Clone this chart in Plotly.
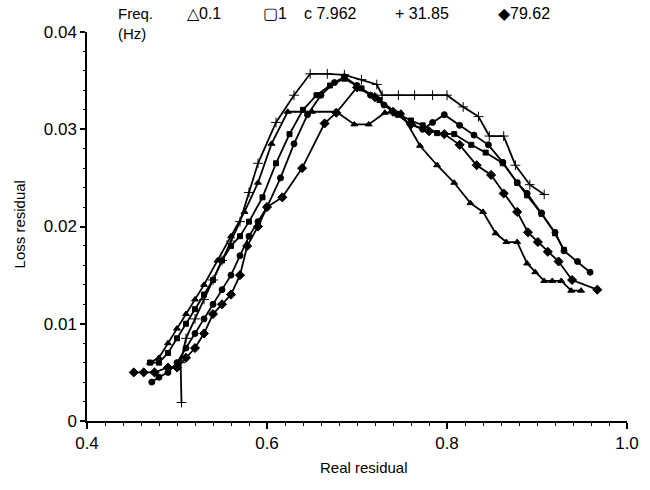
import plotly.graph_objects as go

# Frequency labels (Hz) and marker symbols per series
freq_labels = ["0.1", "1", "7.962", "31.85", "79.62"]
legend_text = ["\u25b30.1", "\u25a21", "c 7.962", "+ 31.85", "\u25c679.62"]
symbols = ["triangle-up", "square", "circle", "cross-thin", "diamond"]

# 0.1 Hz
real_01 = [0.470, 0.480, 0.490, 0.500, 0.510, 0.520, 0.530, 0.545, 0.560, 0.575, 0.590, 0.605,
           0.623, 0.650, 0.677, 0.697, 0.713, 0.731, 0.749, 0.770, 0.789, 0.808, 0.826, 0.840,
           0.854, 0.866, 0.878, 0.889, 0.898, 0.908, 0.917, 0.927, 0.938, 0.949]
loss_01 = [0.0060, 0.0065, 0.0080, 0.0095, 0.0110, 0.0125, 0.0140, 0.0165, 0.0190, 0.0215, 0.0245, 0.0285,
           0.0318, 0.0318, 0.0318, 0.0305, 0.0305, 0.0317, 0.0317, 0.0283, 0.0263, 0.0245, 0.0224, 0.0215,
           0.0193, 0.0184, 0.0184, 0.0162, 0.0153, 0.0144, 0.0144, 0.0144, 0.0134, 0.0134]

# 1 Hz
real_1 = [0.470, 0.480, 0.490, 0.500, 0.510, 0.520, 0.530, 0.540, 0.550, 0.560, 0.570, 0.580, 0.595,
          0.610, 0.625, 0.640, 0.655, 0.670, 0.686, 0.705, 0.725, 0.745, 0.760, 0.773, 0.789, 0.808,
          0.827, 0.843, 0.862, 0.878, 0.889, 0.905, 0.920, 0.930]
loss_1 = [0.0060, 0.0060, 0.0070, 0.0085, 0.0100, 0.0115, 0.0130, 0.0145, 0.0165, 0.0180, 0.0190, 0.0205, 0.0230,
          0.0265, 0.0295, 0.0320, 0.0335, 0.0345, 0.0352, 0.0342, 0.0330, 0.0316, 0.0309, 0.0304, 0.0296, 0.0295,
          0.0284, 0.0276, 0.0265, 0.0245, 0.0232, 0.0213, 0.0193, 0.0176]

# 7.962 Hz
real_7 = [0.472, 0.480, 0.490, 0.500, 0.510, 0.520, 0.530, 0.540, 0.550, 0.560, 0.570, 0.580, 0.590,
          0.600, 0.615, 0.630, 0.645, 0.660, 0.675, 0.686, 0.700, 0.715, 0.730, 0.745, 0.760, 0.773,
          0.784, 0.797, 0.814, 0.830, 0.846, 0.862, 0.878, 0.889, 0.905, 0.920, 0.930, 0.945, 0.959]
loss_7 = [0.0040, 0.0045, 0.0050, 0.0060, 0.0075, 0.0090, 0.0105, 0.0120, 0.0135, 0.0150, 0.0170, 0.0190, 0.0205,
          0.0220, 0.0250, 0.0285, 0.0315, 0.0335, 0.0348, 0.0354, 0.0345, 0.0335, 0.0325, 0.0315, 0.0305, 0.0300,
          0.0307, 0.0315, 0.0304, 0.0294, 0.0284, 0.0266, 0.0245, 0.0234, 0.0214, 0.0194, 0.0175, 0.0164, 0.0153]

# 31.85 Hz
real_31 = [0.505, 0.504, 0.510, 0.520, 0.530, 0.540, 0.550, 0.560, 0.570, 0.580, 0.590, 0.610, 0.630,
           0.648, 0.667, 0.686, 0.705, 0.722, 0.728, 0.746, 0.764, 0.784, 0.800, 0.818, 0.835, 0.847,
           0.863, 0.876, 0.892, 0.908]
loss_31 = [0.0019, 0.0060, 0.0085, 0.0105, 0.0125, 0.0145, 0.0165, 0.0185, 0.0205, 0.0235, 0.0265, 0.0307, 0.0335,
           0.0357, 0.0357, 0.0356, 0.0351, 0.0346, 0.0335, 0.0335, 0.0335, 0.0335, 0.0335, 0.0323, 0.0313, 0.0293,
           0.0293, 0.0263, 0.0243, 0.0233]

# 79.62 Hz
real_79 = [0.452, 0.463, 0.475, 0.490, 0.500, 0.510, 0.520, 0.530, 0.540, 0.550, 0.560, 0.570, 0.578,
           0.590, 0.600, 0.617, 0.639, 0.664, 0.677, 0.700, 0.720, 0.740, 0.760, 0.780, 0.797, 0.814,
           0.833, 0.849, 0.863, 0.878, 0.890, 0.901, 0.912, 0.924, 0.939, 0.967]
loss_79 = [0.0050, 0.0050, 0.0050, 0.0055, 0.0055, 0.0065, 0.0075, 0.0090, 0.0110, 0.0120, 0.0130, 0.0150, 0.0180,
           0.0200, 0.0220, 0.0230, 0.0260, 0.0306, 0.0317, 0.0343, 0.0333, 0.0318, 0.0305, 0.0298, 0.0295, 0.0284,
           0.0263, 0.0253, 0.0234, 0.0215, 0.0194, 0.0184, 0.0174, 0.0164, 0.0145, 0.0135]

series_x = [real_01, real_1, real_7, real_31, real_79]
series_y = [loss_01, loss_1, loss_7, loss_31, loss_79]
marker_sizes = [6, 5, 6, 7, 7]

x_ticks = [0.4, 0.6, 0.8, 1.0]
x_tick_text = ["0.4", "0.6", "0.8", "1.0"]
y_ticks = [0, 0.01, 0.02, 0.03, 0.04]
y_tick_text = ["0", "0.01", "0.02", "0.03", "0.04"]

FONT = "Liberation Sans, Arial, sans-serif"

fig = go.Figure()
for xs, ys, sym, name, ms in zip(series_x, series_y, symbols, freq_labels, marker_sizes):
    fig.add_trace(go.Scatter(
        x=xs, y=ys, mode="lines+markers", name=name,
        line=dict(color="black", width=1.8),
        marker=dict(symbol=sym, size=ms, color="black",
                    line=dict(color="black", width=1)),
        showlegend=False,
    ))

fig.update_layout(
    width=650, height=490,
    margin=dict(l=87, r=11, t=32, b=69),
    paper_bgcolor="white", plot_bgcolor="white",
    font=dict(family=FONT, size=15, color="black"),
)

fig.update_xaxes(
    range=[0.4, 1.0], tickvals=x_ticks, ticktext=x_tick_text,
    showgrid=False, zeroline=False, showline=True, linecolor="black", linewidth=1.5,
    ticks="outside", ticklen=6, tickwidth=1.5, tickcolor="black",
    minor=dict(dtick=0.02, ticks="outside", ticklen=3, tickwidth=1, tickcolor="black"),
    tickfont=dict(size=17), ticklabeloverflow="allow",
)
fig.update_yaxes(
    range=[0, 0.04], tickvals=y_ticks, ticktext=y_tick_text,
    showgrid=False, zeroline=False, showline=True, linecolor="black", linewidth=1.5,
    ticks="outside", ticklen=5, tickwidth=1.5, tickcolor="black",
    minor=dict(dtick=0.002, ticks="outside", ticklen=2, tickwidth=1, tickcolor="black"),
    tickfont=dict(size=17),
)

# Axis titles
fig.add_annotation(text="Real residual", xref="paper", yref="paper", x=0.513, y=-0.12,
                   showarrow=False, xanchor="center", yanchor="middle", font=dict(size=15))
fig.add_annotation(text="Loss residual", xref="paper", yref="paper", x=-0.125, y=0.504,
                   showarrow=False, xanchor="center", yanchor="middle", textangle=-90,
                   font=dict(size=15))

# Frequency key along the top
fig.add_annotation(text="Freq.<br>(Hz)", xref="paper", yref="paper", x=0.054, y=1.075,
                   showarrow=False, xanchor="left", yanchor="top", align="left",
                   font=dict(size=15))
key_x = [0.181, 0.322, 0.399, 0.567, 0.757]
for kx, txt in zip(key_x, legend_text):
    fig.add_annotation(text=txt, xref="paper", yref="paper", x=kx, y=1.047,
                       showarrow=False, xanchor="left", yanchor="middle",
                       font=dict(size=16))

fig.write_html("out.html")
